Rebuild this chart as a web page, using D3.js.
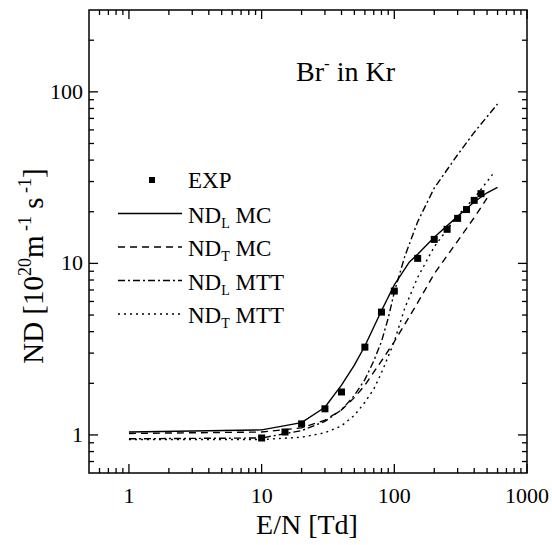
<html>
  <head>
    <script src="https://cdn.jsdelivr.net/npm/d3@7"></script>
    <style>
      body { margin: 0; background: #fff; }
    </style>
  </head>
  <body>
    <script>
      // E/N [Td] and ND [10^20 m^-1 s^-1]
      const expEN = [10, 15, 20, 30, 40, 60, 80, 100, 150, 200, 250, 300, 350, 400, 450];
      const expND = [0.96, 1.04, 1.16, 1.42, 1.78, 3.25, 5.2, 6.9, 10.7, 13.8, 15.8, 18.3, 20.6, 23.3, 25.5];

      const mcLongEN = [1, 10, 20, 30, 40, 50, 60, 80, 100, 130, 150, 200, 300, 400, 500, 600];
      const mcLongND = [1.04, 1.07, 1.18, 1.45, 1.95, 2.55, 3.3, 5.3, 7.5, 10.2, 11.3, 14.2, 18.8, 22.8, 25.8, 27.7];

      const mcTransEN = [1, 10, 20, 30, 40, 50, 60, 80, 100, 150, 200, 300, 400, 500];
      const mcTransND = [1.02, 1.04, 1.1, 1.22, 1.4, 1.65, 1.95, 2.7, 3.5, 5.9, 8.7, 13.5, 18.5, 24];

      const mttLongEN = [1, 10, 20, 30, 40, 50, 60, 70, 80, 90, 100, 120, 150, 200, 300, 400, 600];
      const mttLongND = [0.95, 0.96, 1.06, 1.2, 1.4, 1.7, 2.1, 2.7, 3.5, 4.8, 6.8, 11, 17.5, 27.5, 43, 58, 85];

      const mttTransEN = [1, 10, 20, 30, 40, 50, 60, 70, 80, 100, 120, 150, 200, 300, 400, 550];
      const mttTransND = [0.94, 0.94, 0.97, 1.03, 1.13, 1.3, 1.55, 1.85, 2.3, 3.5, 5.5, 8.3, 12.5, 19, 24, 33];

      const xMajor = [1, 10, 100, 1000];
      const yMajor = [1, 10, 100];

      const width = 552, height = 545;
      const svg = d3.select("body").append("svg")
          .attr("width", width)
          .attr("height", height)
          .attr("font-family", "'Liberation Serif', 'Times New Roman', Times, serif");

      const x = d3.scaleLog().domain([0.5, 1000]).range([89, 527]);
      const y = d3.scaleLog().domain([0.6, 300]).range([473, 10]);

      const toPts = (xs, ys) => xs.map((v, i) => [v, ys[i]]);
      const line = d3.line().x(d => x(d[0])).y(d => y(d[1]));

      const series = [
        { name: "L", method: "MC", pts: toPts(mcLongEN, mcLongND), dash: null },
        { name: "T", method: "MC", pts: toPts(mcTransEN, mcTransND), dash: "7,5" },
        { name: "L", method: "MTT", pts: toPts(mttLongEN, mttLongND), dash: "7,3,2,3" },
        { name: "T", method: "MTT", pts: toPts(mttTransEN, mttTransND), dash: "2,4" }
      ];

      series.forEach(s => {
        svg.append("path")
            .datum(s.pts)
            .attr("fill", "none")
            .attr("stroke", "#000")
            .attr("stroke-width", 1.4)
            .attr("stroke-dasharray", s.dash)
            .attr("d", line);
      });

      // experimental points
      svg.append("g").selectAll("rect")
          .data(toPts(expEN, expND))
          .join("rect")
          .attr("x", d => x(d[0]) - 3.5)
          .attr("y", d => y(d[1]) - 3.5)
          .attr("width", 7)
          .attr("height", 7)
          .attr("fill", "#000");

      // frame + inward ticks on all four sides
      const [x0, x1] = x.range(), [y0, y1] = y.range();
      const isMajor = (v, list) => list.some(m => Math.abs(v / m - 1) < 1e-6);
      const xTicks = x.ticks().filter(v => v > 0.5 && v <= 1000);
      const yTicks = y.ticks().filter(v => v > 0.6 && v < 300);

      const axes = svg.append("g").attr("stroke", "#000").attr("stroke-width", 1.3);
      xTicks.forEach(v => {
        const len = isMajor(v, xMajor) ? 9 : 5;
        axes.append("line").attr("x1", x(v)).attr("x2", x(v)).attr("y1", y0).attr("y2", y0 - len);
        axes.append("line").attr("x1", x(v)).attr("x2", x(v)).attr("y1", y1).attr("y2", y1 + len);
      });
      yTicks.forEach(v => {
        const len = isMajor(v, yMajor) ? 9 : 5;
        axes.append("line").attr("y1", y(v)).attr("y2", y(v)).attr("x1", x0).attr("x2", x0 + len);
        axes.append("line").attr("y1", y(v)).attr("y2", y(v)).attr("x1", x1).attr("x2", x1 - len);
      });
      svg.append("rect")
          .attr("x", x0).attr("y", y1)
          .attr("width", x1 - x0).attr("height", y0 - y1)
          .attr("fill", "none").attr("stroke", "#000").attr("stroke-width", 1.5);

      // tick labels
      svg.append("g").selectAll("text")
          .data(xMajor)
          .join("text")
          .attr("x", d => x(d))
          .attr("y", 503)
          .attr("text-anchor", "middle")
          .attr("font-size", 22)
          .text(d => d);
      svg.append("g").selectAll("text")
          .data(yMajor)
          .join("text")
          .attr("x", 83)
          .attr("y", d => y(d) + 7)
          .attr("text-anchor", "end")
          .attr("font-size", 22)
          .text(d => d);

      // axis titles
      svg.append("text")
          .attr("x", 307).attr("y", 534)
          .attr("text-anchor", "middle")
          .attr("font-size", 28)
          .text("E/N [Td]");

      const yt = svg.append("text")
          .attr("transform", "translate(43,266) rotate(-90)")
          .attr("text-anchor", "middle")
          .attr("font-size", 29);
      yt.append("tspan").text("ND [10");
      yt.append("tspan").attr("dy", -12).attr("font-size", 18).text("20");
      yt.append("tspan").attr("dy", 12).text("m");
      yt.append("tspan").attr("dy", -12).attr("font-size", 18).text(" -1");
      yt.append("tspan").attr("dy", 12).text(" s");
      yt.append("tspan").attr("dy", -12).attr("font-size", 18).text(" -1");
      yt.append("tspan").attr("dy", 12).text("]");

      // panel label
      const lbl = svg.append("text")
          .attr("x", 296).attr("y", 81)
          .attr("font-size", 28);
      lbl.append("tspan").text("Br");
      lbl.append("tspan").attr("dy", -12).attr("font-size", 17).text("-");
      lbl.append("tspan").attr("dy", 12).text(" in Kr");

      // legend
      const legY = [180, 213.5, 247, 280.5, 314];
      svg.append("rect")
          .attr("x", 152 - 3).attr("y", legY[0] - 3)
          .attr("width", 6).attr("height", 6).attr("fill", "#000");
      svg.append("text")
          .attr("x", 188).attr("y", legY[0] + 8)
          .attr("font-size", 23)
          .text("EXP");
      series.forEach((s, i) => {
        const ly = legY[i + 1];
        svg.append("line")
            .attr("x1", 118).attr("x2", 182)
            .attr("y1", ly).attr("y2", ly)
            .attr("stroke", "#000").attr("stroke-width", 1.4)
            .attr("stroke-dasharray", s.dash);
        const t = svg.append("text")
            .attr("x", 188).attr("y", ly + 9)
            .attr("font-size", 23);
        t.append("tspan").text("ND");
        t.append("tspan").attr("dy", 5).attr("font-size", 14).text(s.name);
        t.append("tspan").attr("dy", -5).text(" " + s.method);
      });
    </script>
  </body>
</html>
